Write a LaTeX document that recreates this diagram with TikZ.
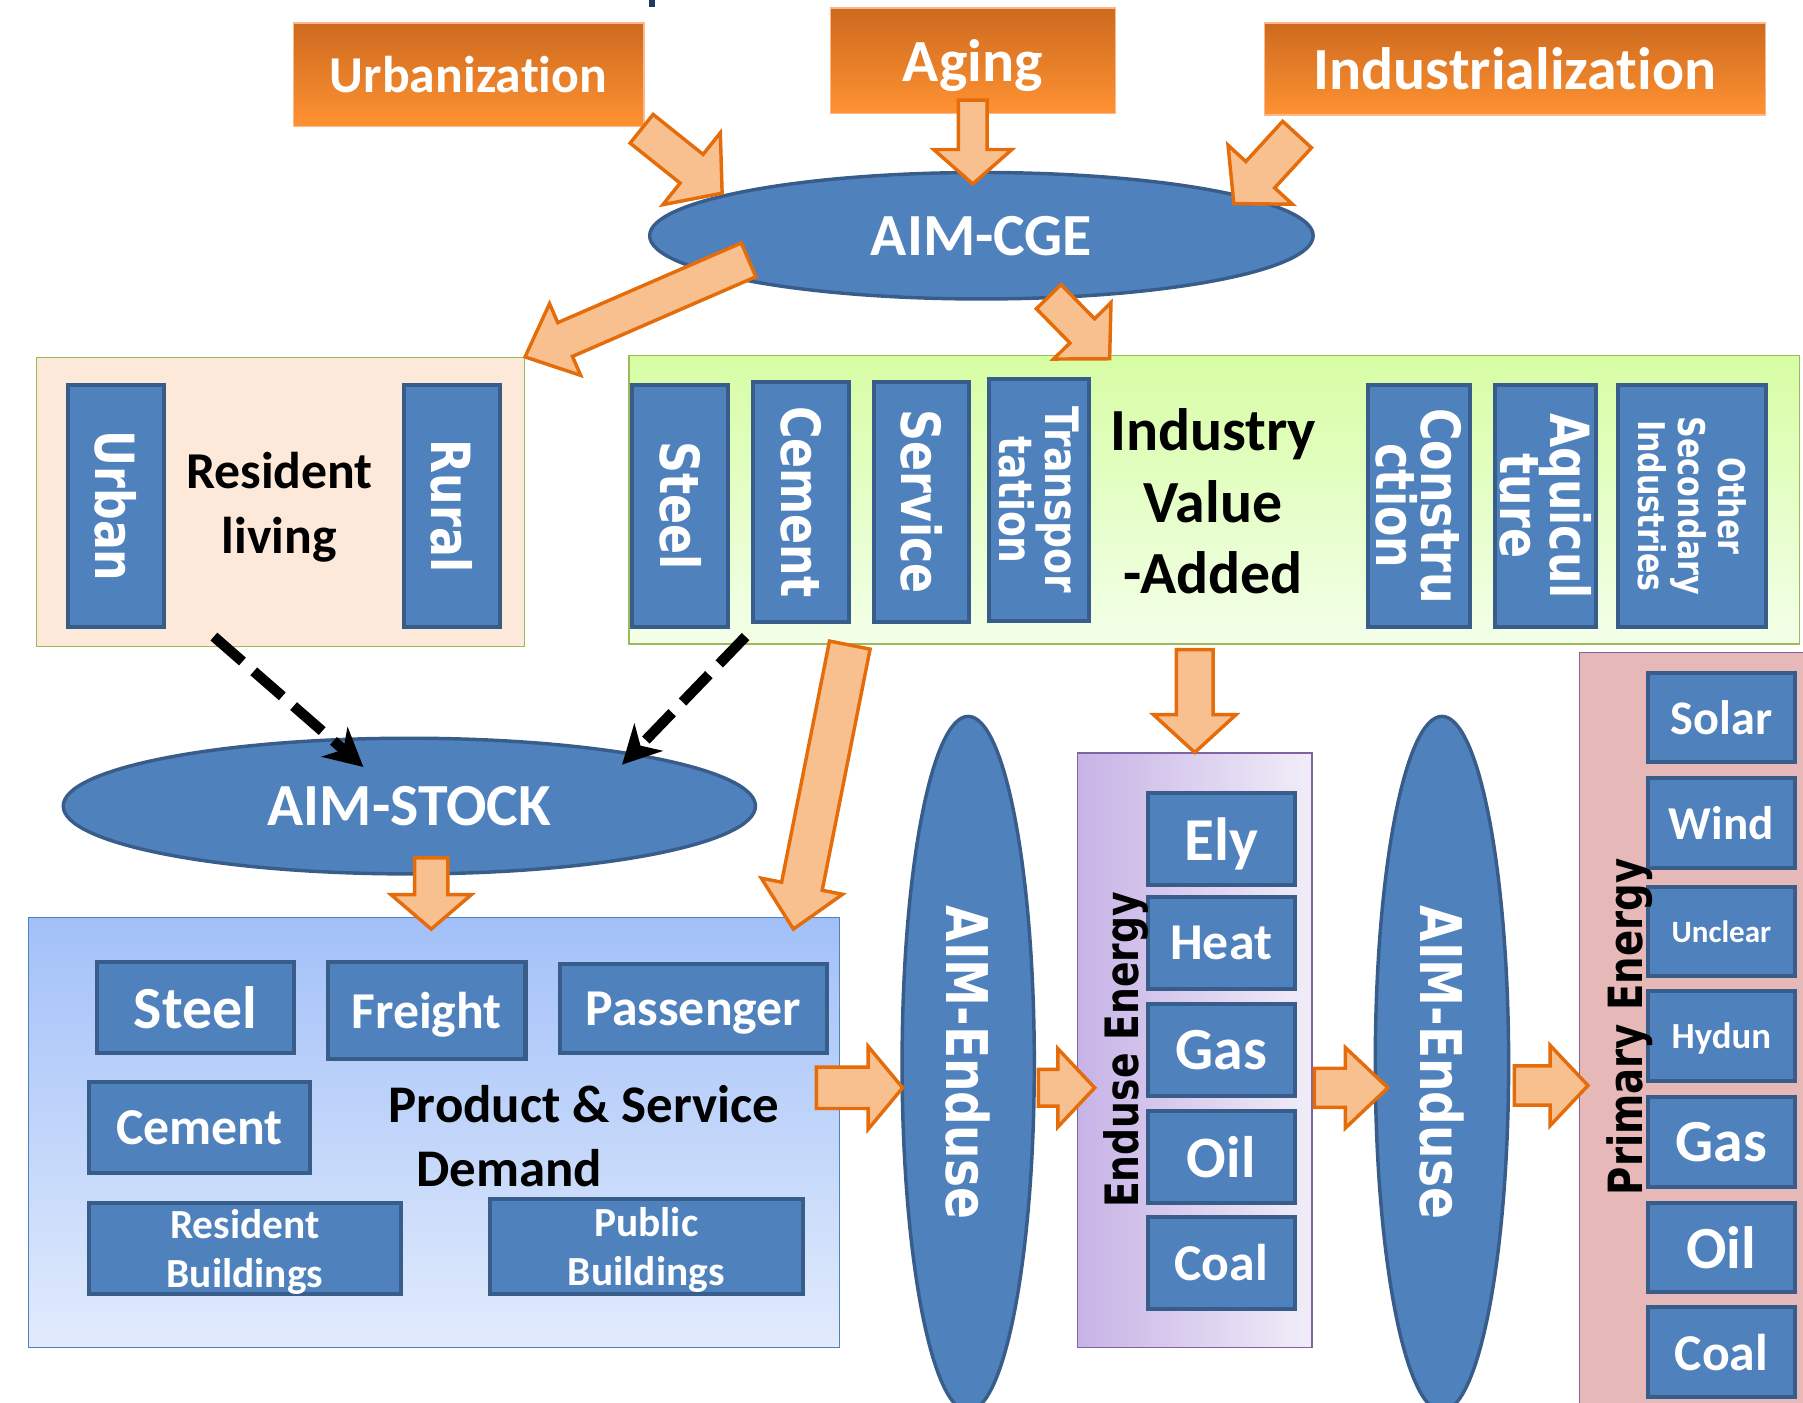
\documentclass[tikz,border=0pt]{standalone}
\usepackage{fontspec}
\setmainfont{Carlito}[Ligatures=NoCommon]
\newfontfamily\vfont[FakeStretch=0.82]{DejaVu Sans}
\usetikzlibrary{shapes.geometric,arrows.meta,calc}

\definecolor{boxblue}{HTML}{4F81BD}
\definecolor{boxedge}{HTML}{385D8A}
\definecolor{arrfill}{HTML}{F9C08F}
\definecolor{arredge}{HTML}{E46C0A}
\definecolor{orgtop}{HTML}{CD6A1F}
\definecolor{orgbot}{HTML}{FF9232}
\definecolor{orgline}{HTML}{F9B98C}
\definecolor{leafline}{HTML}{9BBB59}
\definecolor{peach}{HTML}{FCE9DA}
\definecolor{limetop}{HTML}{D7FDA4}
\definecolor{limebot}{HTML}{F3FFE9}
\definecolor{skytop}{HTML}{A2C0F8}
\definecolor{skybot}{HTML}{E1EBFC}
\definecolor{lilacl}{HTML}{C7B3E6}
\definecolor{lilacr}{HTML}{F1EDF8}
\definecolor{lilacline}{HTML}{8064A2}
\definecolor{rose}{HTML}{E6B9B8}
\definecolor{navy}{HTML}{1F3864}

\newcommand{\fsz}[2]{\fontsize{#1}{#2}\selectfont}

% block arrow: start, tip, half shaft, half head, head length
\newcommand{\fatarrow}[5]{%
  \coordinate (fah) at ($(#2)!#5!(#1)$);
  \draw[fatarr] ($(#1)!#3!90:(#2)$) -- ($(fah)!#3!90:(#2)$) -- ($(fah)!#4!90:(#2)$)
    -- (#2) -- ($(fah)!#4!-90:(#2)$) -- ($(fah)!#3!-90:(#2)$) -- ($(#1)!#3!-90:(#2)$) -- cycle;}

\begin{document}
\begin{tikzpicture}[x=1pt,y=-1pt,
  orgbox/.style={draw=orgline, line width=1pt, top color=orgtop, bottom color=orgbot, text=white, inner sep=0pt, text depth=0pt},
  tilebox/.style={draw=boxedge, fill=boxblue, line width=3.5pt, text=white, inner sep=0pt, align=center, text depth=0pt},
  colbox/.style={draw=boxedge, fill=boxblue, line width=3.5pt, text=white, inner sep=0pt, align=center, rotate=-90},
  model/.style={ellipse, draw=boxedge, fill=boxblue, line width=3pt, text=white, inner sep=0pt},
  bigtxt/.style={align=center, inner sep=0pt},
  fatarr/.style={draw=arredge, fill=arrfill, line width=3pt, line join=miter},
  dasharr/.style={line width=9pt, dash pattern=on 33pt off 13pt, -{Stealth[length=33pt,width=34pt,inset=10pt]}}]

\useasboundingbox (0,0) rectangle (1568,1220);
\fill[navy] (564,-2) rectangle (570,6);

% drivers
\node[orgbox, minimum width=305pt, minimum height=90pt, font=\bfseries\fsz{45}{50}] (urb) at (407.5,65) {Urbanization};
\node[orgbox, minimum width=248pt, minimum height=92pt, font=\bfseries\fsz{52}{60}] (aging) at (846,53) {Aging};
\node[orgbox, minimum width=435pt, minimum height=80pt, font=\bfseries\fsz{52}{60}] (indz) at (1317.5,60) {Industrialization};

\node[model, minimum width=577pt, minimum height=110pt, font=\bfseries\fsz{52}{60}] (cge) at (853.5,205) {AIM-CGE};

% resident living
\node[draw=leafline, fill=peach, line width=1.2pt, minimum width=424pt, minimum height=251pt] (resbox) at (244,436.5) {};
\node[colbox, minimum width=210pt, minimum height=84pt, font=\vfont\bfseries\fsz{47}{40}] (urban) at (101,440) {Urban};
\node[colbox, minimum width=210pt, minimum height=84pt, font=\vfont\bfseries\fsz{47}{40}] (rural) at (393,440) {Rural};
\node[bigtxt, font=\bfseries\fsz{45}{57}] (restxt) at (243,441) {Resident\\living};

% industry value added
\node[draw=leafline, top color=limetop, bottom color=limebot, line width=1.2pt, minimum width=1018pt, minimum height=251pt] (indbox) at (1056,434.5) {};
\foreach \nm/\px/\py/\hh/\ww/\fs/\fl/\lbl in {isteel/591.5/440/210/83/47/40/Steel,
    icem/696.5/436.5/209/83/47/40/Cement, iserv/801.5/436.5/209/83/47/40/Service,
    itrans/903.5/435/210/87/40/37/{Transpor\\tation}, icons/1234/440/210/88/47/39/{Constru\\ction},
    iaqui/1344/440/210/88/47/40/{Aquicul\\ture}, iother/1471.5/440/210/129/32/35/{Other\\Secondary\\Industries}}
  \node[colbox, minimum width=\hh pt, minimum height=\ww pt, font=\vfont\bfseries\fsz{\fs}{\fl}] (\nm) at (\px,\py) {\lbl};
\node[bigtxt, font=\bfseries\fsz{52}{62}] (indtxt) at (1055,436) {Industry\\Value\\-Added};

\node[model, minimum width=602pt, minimum height=118pt, font=\bfseries\fsz{52}{60}] (stock) at (356,701) {AIM-STOCK};

% product and service demand
\node[draw=boxblue, top color=skytop, bottom color=skybot, line width=1.2pt, minimum width=705pt, minimum height=374pt] (prodbox) at (377.5,985) {};
\foreach \nm/\px/\py/\ww/\hh/\fs/\fl/\lbl in {psteel/170/876.5/172/79/52/60/Steel,
    pfreight/371/879/172/84/45/54/Freight, ppass/603/877/232/78/45/54/Passenger,
    pcem/173.5/980.5/193/79/45/54/Cement, pres/213/1085.5/272/79/36/43/{Resident\\Buildings},
    ppub/562/1084/272/82/36/43/{Public\\Buildings}}
  \node[tilebox, minimum width=\ww pt, minimum height=\hh pt, font=\bfseries\fsz{\fs}{\fl}] (\nm) at (\px,\py) {\lbl};
\node[bigtxt, font=\bfseries\fsz{46}{56}] (pstxt) at (508,960) {Product \& Service};
\node[bigtxt, font=\bfseries\fsz{46}{56}] (dmtxt) at (443,1016) {Demand};

% enduse models
\node[model, minimum width=115pt, minimum height=604pt] (endA) at (842,925) {};
\node[rotate=-90, text=white, inner sep=0pt, font=\vfont\bfseries\fsz{50}{60}] (endAtxt) at (842,924) {AIM-Enduse};
\node[model, minimum width=116pt, minimum height=604pt] (endB) at (1254,925) {};
\node[rotate=-90, text=white, inner sep=0pt, font=\vfont\bfseries\fsz{50}{60}] (endBtxt) at (1254,924) {AIM-Enduse};

% enduse energy
\node[draw=lilacline, left color=lilacl, right color=lilacr, line width=1.2pt, minimum width=204pt, minimum height=517pt] (eebox) at (1039,913.5) {};
\foreach \nm/\py/\fs/\lbl in {ely/730/53/Ely, heat/820/45/Heat, egas/913/52/Gas, eoil/1006/51/Oil, ecoal/1098/45/Coal}
  \node[tilebox, minimum width=128pt, minimum height=80pt, font=\bfseries\fsz{\fs}{60}] (\nm) at (1062,\py) {\lbl};
\node[rotate=90, inner sep=0pt, font=\vfont\bfseries\fsz{40}{48}] (eetxt) at (979,913) {Enduse Energy};

% primary energy
\node[draw=lilacline, fill=rose, line width=1.2pt, minimum width=240pt, minimum height=700pt, anchor=north west] (primbox) at (1373,567) {};
\foreach \nm/\py/\fs/\lbl in {solar/624/42/Solar, wind/716/41/Wind, uncl/810/27/Unclear, hyd/901/32/Hydun,
    qgas/993/52/Gas, qoil/1085/52/Oil, qcoal/1176/45/Coal}
  \node[tilebox, minimum width=128pt, minimum height=78pt, font=\bfseries\fsz{\fs}{60}] (\nm) at (1497,\py) {\lbl};
\node[rotate=90, inner sep=0pt, font=\vfont\bfseries\fsz{41}{48}] (primtxt) at (1417,893) {Primary Energy};

% stock inputs
\coordinate (dr) at ($(resbox.south)+(-58,-9)$);
\coordinate (drtip) at ($(stock.center)+(-40,-34)$);
\coordinate (di) at ($(indbox.south west)+(102,-7)$);
\coordinate (ditip) at ($(stock.center)+(185,-36)$);
\draw[dasharr] (dr) -- (drtip);
\draw[dasharr] (di) -- (ditip);

% flows
\coordinate (u1) at (558,112);    \coordinate (u2) at (628,168);
\coordinate (g1) at (846,87);     \coordinate (g2) at (846,160);
\coordinate (n1) at (1128,117);   \coordinate (n2) at (1073,177);
\coordinate (c1) at (651,226);    \coordinate (c2) at (resbox.north east);
\coordinate (c3) at (912,258);    \coordinate (c4) at (965,312);
\coordinate (s1) at (375,746);    \coordinate (s2) at (375,808);
\coordinate (v1) at (739,561);    \coordinate (v2) at (690,808);
\coordinate (v3) at (1039,565);   \coordinate (v4) at (eebox.north);
\coordinate (e1) at (710,946);    \coordinate (e2) at (785,946);
\coordinate (e3) at (903,946);    \coordinate (e4) at (952,946);
\coordinate (e5) at (1143,946);   \coordinate (e6) at (1207,946);
\coordinate (e7) at (1317,944);   \coordinate (e8) at (1381,944);
\fatarrow{u1}{u2}{16pt}{40pt}{34pt}
\fatarrow{g1}{g2}{12.5pt}{34pt}{30pt}
\fatarrow{n1}{n2}{17pt}{38pt}{34pt}
\fatarrow{c1}{c2}{16pt}{34pt}{38pt}
\fatarrow{c3}{c4}{15pt}{35pt}{34pt}
\fatarrow{s1}{s2}{14.5pt}{35pt}{30pt}
\fatarrow{v1}{v2}{18pt}{36pt}{38pt}
\fatarrow{v3}{v4}{16pt}{36pt}{33pt}
\fatarrow{e1}{e2}{18pt}{36pt}{30pt}
\fatarrow{e3}{e4}{16pt}{34pt}{32pt}
\fatarrow{e5}{e6}{17pt}{35pt}{37pt}
\fatarrow{e7}{e8}{17pt}{35pt}{33pt}

\end{tikzpicture}
\end{document}
